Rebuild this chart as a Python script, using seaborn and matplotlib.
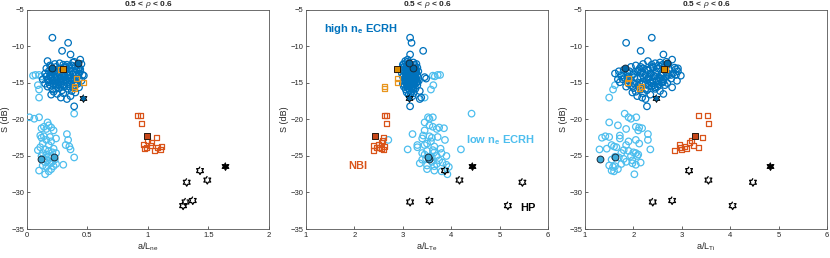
import numpy as np
import pandas as pd
import matplotlib
matplotlib.use('Agg')
import matplotlib.pyplot as plt
import seaborn as sns

# --- low n_e ECRH (light blue circles): S, a/Lne, a/LTe, a/LTi
low_S = [-14.0, -13.9, -13.9, -14.1, -15.3, -15.9, -17.0, -19.2, -19.7, -19.9,
         -19.7, -20.4, -20.8, -21.0, -21.1, -21.2, -21.3, -21.5, -22.0, -22.2,
         -22.3, -22.4, -22.5, -22.6, -22.8, -22.8, -23.0, -23.3, -23.5, -23.5,
         -23.7, -23.8, -24.0, -24.1, -24.1, -24.2, -24.3, -24.5, -24.6, -24.6,
         -24.8, -25.0, -25.0, -25.1, -25.2, -25.4, -25.5, -25.6, -25.8, -25.9,
         -26.0, -26.2, -26.3, -26.4, -26.5, -26.8, -27.0, -27.1, -27.5, -26.1]
low_ne = [0.05, 0.07, 0.10, 0.12, 0.09, 0.10, 0.10, 0.39, 0.02, 0.06,
          0.10, 0.17, 0.18, 0.14, 0.20, 0.12, 0.16, 0.22, 0.33, 0.11,
          0.14, 0.19, 0.12, 0.24, 0.34, 0.16, 0.20, 0.13, 0.32, 0.18,
          0.35, 0.11, 0.22, 0.36, 0.15, 0.09, 0.18, 0.21, 0.13, 0.24,
          0.16, 0.20, 0.12, 0.18, 0.39, 0.14, 0.23, 0.17, 0.21, 0.15,
          0.19, 0.30, 0.13, 0.22, 0.16, 0.20, 0.10, 0.18, 0.15, 0.24]
low_te = [3.62, 3.72, 3.77, 3.66, 3.63, 3.58, 3.45, 4.42, 3.62, 3.55,
          3.52, 3.45, 3.55, 3.62, 3.75, 3.85, 3.70, 3.45, 3.20, 3.42,
          3.55, 3.72, 3.60, 3.40, 2.70, 3.87, 3.58, 3.50, 3.30, 3.45,
          3.65, 3.30, 3.78, 3.10, 4.20, 3.62, 3.50, 3.65, 3.80, 3.40,
          3.45, 3.70, 3.90, 3.55, 3.60, 3.48, 3.40, 3.75, 3.60, 3.82,
          3.35, 3.90, 3.50, 3.65, 3.95, 3.50, 3.65, 3.80, 3.92, 3.70]
low_ti = [1.80, 1.95, 1.70, 1.88, 1.62, 1.58, 1.50, 1.82, 2.06, 1.95,
          1.90, 1.50, 1.68, 2.05, 2.12, 2.18, 1.85, 2.10, 2.30, 1.72,
          1.42, 1.50, 1.35, 1.72, 2.30, 2.05, 1.90, 2.12, 1.55, 1.85,
          1.60, 1.65, 1.45, 1.30, 2.35, 1.80, 1.90, 2.00, 2.05, 1.75,
          2.10, 1.95, 2.08, 1.62, 1.70, 1.80, 1.55, 1.98, 1.85, 2.15,
          1.98, 2.05, 1.50, 1.62, 1.58, 1.68, 1.55, 1.60, 2.02, 1.75]
low_fill_S = [-25.4, -25.2]
low_fill_ne = [0.12, 0.22]
low_fill_te = [3.55, 3.52]
low_fill_ti = [1.30, 1.63]

# --- high n_e ECRH (dark blue circles)
high_S = [-8.8, -9.5, -10.6, -11.1, -11.8, -12.0, -12.2, -12.3, -12.4, -12.5,
          -12.6, -12.7, -12.8, -12.8, -12.9, -13.0, -13.0, -13.1, -13.2, -13.2,
          -13.3, -13.3, -13.4, -13.4, -13.5, -13.5, -13.6, -13.6, -13.7, -13.7,
          -13.8, -13.8, -13.9, -13.9, -14.0, -14.0, -14.1, -14.1, -14.2, -14.2,
          -14.3, -14.3, -14.4, -14.4, -14.5, -14.5, -14.6, -14.6, -14.7, -14.7,
          -14.8, -14.8, -14.9, -14.9, -15.0, -15.0, -15.1, -15.1, -15.2, -15.2,
          -15.3, -15.3, -15.4, -15.5, -15.5, -15.6, -15.7, -15.8, -15.9, -16.0,
          -16.1, -16.2, -16.3, -16.4, -16.5, -16.6, -17.0, -17.2, -18.2, -16.8,
          -12.9, -13.4, -13.8, -14.2, -14.6, -15.0, -13.1, -14.4, -15.4, -13.6,
          -12.4, -13.0, -13.9, -14.8, -15.6, -14.0, -13.3, -12.7, -15.1, -14.5,
          -12.6, -13.2, -13.5, -13.9, -14.3, -14.7, -15.2, -13.7, -14.1, -14.9,
          -12.1, -12.8, -13.6, -14.4, -15.3, -15.8, -13.0, -14.6, -12.5, -15.5]
high_ne = [0.21, 0.34, 0.29, 0.36, 0.44, 0.17, 0.38, 0.27, 0.45, 0.33,
           0.19, 0.40, 0.24, 0.31, 0.43, 0.16, 0.35, 0.26, 0.41, 0.22,
           0.29, 0.37, 0.18, 0.44, 0.25, 0.33, 0.21, 0.40, 0.15, 0.30,
           0.23, 0.38, 0.27, 0.46, 0.19, 0.34, 0.42, 0.16, 0.31, 0.25,
           0.36, 0.20, 0.43, 0.28, 0.17, 0.39, 0.24, 0.32, 0.45, 0.21,
           0.30, 0.37, 0.18, 0.26, 0.41, 0.33, 0.22, 0.15, 0.35, 0.28,
           0.19, 0.40, 0.24, 0.31, 0.17, 0.43, 0.26, 0.34, 0.21, 0.29,
           0.37, 0.22, 0.40, 0.30, 0.25, 0.20, 0.28, 0.33, 0.39, 0.36,
           0.32, 0.23, 0.35, 0.20, 0.28, 0.39, 0.44, 0.34, 0.27, 0.26,
           0.23, 0.28, 0.31, 0.24, 0.38, 0.47, 0.20, 0.35, 0.42, 0.13,
           0.37, 0.32, 0.20, 0.41, 0.23, 0.34, 0.24, 0.43, 0.29, 0.40,
           0.39, 0.20, 0.31, 0.36, 0.30, 0.24, 0.43, 0.18, 0.30, 0.35]
high_te = [3.15, 3.18, 3.42, 3.15, 3.10, 3.05, 3.22, 3.12, 3.28, 3.00,
           3.08, 3.25, 3.02, 3.18, 3.30, 3.05, 3.12, 3.20, 3.27, 3.00,
           3.10, 3.22, 3.04, 3.32, 3.15, 3.08, 3.26, 3.13, 2.98, 3.20,
           3.06, 3.18, 3.12, 3.30, 3.02, 3.24, 3.15, 3.00, 3.45, 3.10,
           3.20, 3.08, 3.48, 3.14, 3.04, 3.26, 3.10, 3.18, 3.33, 3.02,
           3.12, 3.22, 3.06, 3.16, 3.28, 3.10, 3.00, 3.14, 3.24, 3.08,
           3.04, 3.30, 3.12, 3.20, 3.02, 3.18, 3.10, 3.26, 3.06, 3.14,
           3.35, 3.18, 3.08, 3.22, 3.16, 3.12, 3.38, 3.35, 3.15, 3.20,
           3.14, 3.20, 3.08, 3.16, 3.24, 3.12, 3.18, 3.06, 3.22, 3.28,
           3.02, 3.26, 3.14, 3.30, 3.20, 3.12, 3.16, 3.04, 3.18, 3.28,
           3.16, 3.06, 3.18, 3.22, 3.12, 3.10, 3.20, 3.14, 3.26, 3.18,
           3.10, 3.14, 3.04, 3.12, 3.16, 3.22, 3.08, 3.20, 3.24, 3.12]
high_ti = [2.38, 1.85, 2.15, 2.62, 2.80, 2.30, 2.55, 2.45, 2.72, 2.38,
           2.05, 2.60, 1.95, 2.40, 2.85, 2.20, 2.50, 2.12, 2.75, 1.80,
           2.30, 2.65, 1.70, 2.92, 2.18, 2.48, 1.88, 2.70, 1.62, 2.35,
           2.00, 2.58, 2.25, 2.88, 1.75, 2.42, 2.68, 1.90, 2.15, 2.32,
           2.55, 1.82, 2.78, 2.08, 1.68, 2.62, 2.28, 2.40, 2.90, 1.95,
           2.20, 2.48, 1.72, 2.35, 2.70, 2.12, 1.90, 2.02, 2.52, 2.25,
           1.95, 2.65, 2.10, 2.38, 1.85, 2.80, 2.00, 2.45, 2.15, 2.28,
           2.55, 2.05, 1.98, 2.20, 2.62, 2.35, 2.18, 2.25, 2.28, 2.08,
           2.42, 1.92, 2.62, 2.02, 2.48, 2.58, 2.88, 2.55, 2.32, 2.15,
           2.20, 2.35, 2.78, 2.62, 2.45, 2.98, 2.10, 2.68, 2.38, 1.78,
           2.52, 2.28, 2.08, 2.72, 2.22, 2.52, 2.18, 2.82, 2.45, 2.60,
           2.68, 2.15, 2.45, 2.30, 2.42, 2.25, 2.92, 1.88, 2.60, 2.50]
high_fill_S = [-13.0, -12.2]
high_fill_ne = [0.21, 0.42]
high_fill_te = [3.22, 3.12]
high_fill_ti = [1.83, 2.69]

# --- NBI (red-orange squares)
nbi_S = [-19.5, -19.4, -20.5, -22.5, -22.9, -23.2, -23.4, -23.6, -23.7, -23.9, -24.0, -24.1, -24.3, -23.8]
nbi_ne = [0.91, 0.94, 0.95, 1.07, 1.00, 1.03, 0.96, 1.02, 1.11, 1.08, 0.97, 1.10, 1.05, 0.99]
nbi_te = [2.63, 2.67, 2.67, 2.60, 2.58, 2.55, 2.50, 2.40, 2.62, 2.45, 2.55, 2.60, 2.40, 2.52]
nbi_ti = [3.34, 3.54, 3.55, 3.42, 3.20, 3.15, 2.95, 3.25, 3.05, 2.97, 3.10, 3.00, 2.85, 3.35]
nbi_fill_S = [-22.3]
nbi_fill_ne = [0.99]
nbi_fill_te = [2.43]
nbi_fill_ti = [3.28]

# --- orange squares
org_S = [-13.2, -14.4, -14.9, -15.5, -15.8]
org_ne = [0.28, 0.41, 0.47, 0.39, 0.39]
org_te = [2.90, 2.90, 2.90, 2.62, 2.62]
org_ti = [2.67, 1.90, 1.88, 2.17, 2.12]
org_fill_S = [-13.1]
org_fill_ne = [0.30]
org_fill_te = [2.88]
org_fill_ti = [2.63]

# --- HP (hexagrams)
hp_S = [-27.0, -28.3, -28.6, -31.1, -31.3, -31.8]
hp_ne = [1.43, 1.49, 1.32, 1.37, 1.31, 1.29]
hp_te = [3.87, 4.17, 5.47, 3.55, 3.15, 5.17]
hp_ti = [3.15, 3.55, 4.47, 2.80, 2.40, 4.05]
hp_fill_S = [-26.4]
hp_fill_ne = [1.64]
hp_fill_te = [4.43]
hp_fill_ti = [4.83]
star_S = [-17.1]
star_ne = [0.46]
star_te = [3.13]
star_ti = [2.47]


def frame(S, ne, te, ti):
    return pd.DataFrame({'S': S, 'ne': ne, 'te': te, 'ti': ti})


# hexagram marker shape
k = np.arange(6)
outer = np.deg2rad(90 + 60 * k)
inner = np.deg2rad(120 + 60 * k)
r_in = 1 / np.sqrt(3)
hexagram = []
for a, b in zip(outer, inner):
    hexagram.append((np.cos(a), np.sin(a)))
    hexagram.append((r_in * np.cos(b), r_in * np.sin(b)))

dblue = '#0072BD'
lblue = '#4DBEEE'
red = '#D95319'
orange = '#E8961E'

layers = [
    (frame(low_S, low_ne, low_te, low_ti), 'o', 22, 'none', lblue, 0.9),
    (frame(high_S, high_ne, high_te, high_ti), 'o', 22, 'none', dblue, 0.9),
    (frame(nbi_S, nbi_ne, nbi_te, nbi_ti), 's', 13, 'none', red, 0.9),
    (frame(org_S, org_ne, org_te, org_ti), 's', 13, 'none', orange, 0.9),
    (frame(hp_S, hp_ne, hp_te, hp_ti), hexagram, 32, 'none', 'black', 0.9),
    (frame(high_fill_S, high_fill_ne, high_fill_te, high_fill_ti), 'o', 24, '#0068AA', '#1a2a3a', 0.7),
    (frame(low_fill_S, low_fill_ne, low_fill_te, low_fill_ti), 'o', 24, '#3BAAD8', '#1a2a3a', 0.7),
    (frame(nbi_fill_S, nbi_fill_ne, nbi_fill_te, nbi_fill_ti), 's', 15, '#C8481A', '#2a1a10', 0.7),
    (frame(org_fill_S, org_fill_ne, org_fill_te, org_fill_ti), 's', 15, '#D88A00', '#2a1a10', 0.7),
    (frame(hp_fill_S, hp_fill_ne, hp_fill_te, hp_fill_ti), hexagram, 32, 'black', 'black', 0.7),
    (frame(star_S, star_ne, star_te, star_ti), hexagram, 32, '#0068AA', 'black', 0.6),
]

sns.set_style('ticks')
plt.rcParams['font.family'] = ['Liberation Sans', 'DejaVu Sans']
plt.rcParams['mathtext.fontset'] = 'custom'
plt.rcParams['mathtext.rm'] = 'Liberation Sans'
plt.rcParams['mathtext.it'] = 'Liberation Sans:italic'
plt.rcParams['mathtext.bf'] = 'Liberation Sans:bold'

txt = '#262626'
fig = plt.figure(figsize=(8.3, 2.58), dpi=100)
lefts = [0.0325, 0.3687, 0.7048]
cols = ['ne', 'te', 'ti']
xlabels = [r'a/L$_\mathregular{ne}$', r'a/L$_\mathregular{Te}$', r'a/L$_\mathregular{Ti}$']
xlims = [(0, 2), (1, 6), (1, 6)]

for i in range(3):
    ax = fig.add_axes([lefts[i], 0.1124, 0.2916, 0.849])
    for df, mk, s, fc, ec, lw in layers:
        sns.scatterplot(data=df, x=cols[i], y='S', marker=mk, s=s, facecolor=fc,
                        edgecolor=ec, linewidth=lw, ax=ax, legend=False, zorder=3)
    ax.set_xlim(xlims[i])
    ax.set_ylim(-35, -5)
    ax.set_yticks(np.arange(-35, -4, 5))
    if i == 0:
        ax.set_xticks([0, 0.5, 1, 1.5, 2])
        ax.set_xticklabels(['0', '0.5', '1', '1.5', '2'])
    else:
        ax.set_xticks([1, 2, 3, 4, 5, 6])
    ax.set_xlabel(xlabels[i], fontsize=6.5, color=txt, labelpad=1)
    ax.set_ylabel('S (dB)', fontsize=6.5, color=txt, labelpad=1)
    ax.set_title(r'0.5 < $\rho$ < 0.6', fontsize=6, fontweight='bold', pad=2)
    ax.tick_params(direction='in', length=2.5, width=0.5, labelsize=5.5,
                   colors=txt, pad=2)
    for sp in ax.spines.values():
        sp.set_visible(True)
        sp.set_linewidth(0.6)
        sp.set_color('#555555')
    if i == 1:
        ax.text(1.37, -7.6, r'high n$_\mathbf{e}$ ECRH', color=dblue, fontsize=8,
                fontweight='bold', va='center')
        ax.text(4.3, -22.8, r'low n$_\mathbf{e}$ ECRH', color=lblue, fontsize=8,
                fontweight='bold', va='center')
        ax.text(1.88, -26.4, 'NBI', color=red, fontsize=8, fontweight='bold', va='center')
        ax.text(5.42, -32.1, 'HP', color='black', fontsize=8, fontweight='bold', va='center')

fig.savefig('out.png', dpi=100)
